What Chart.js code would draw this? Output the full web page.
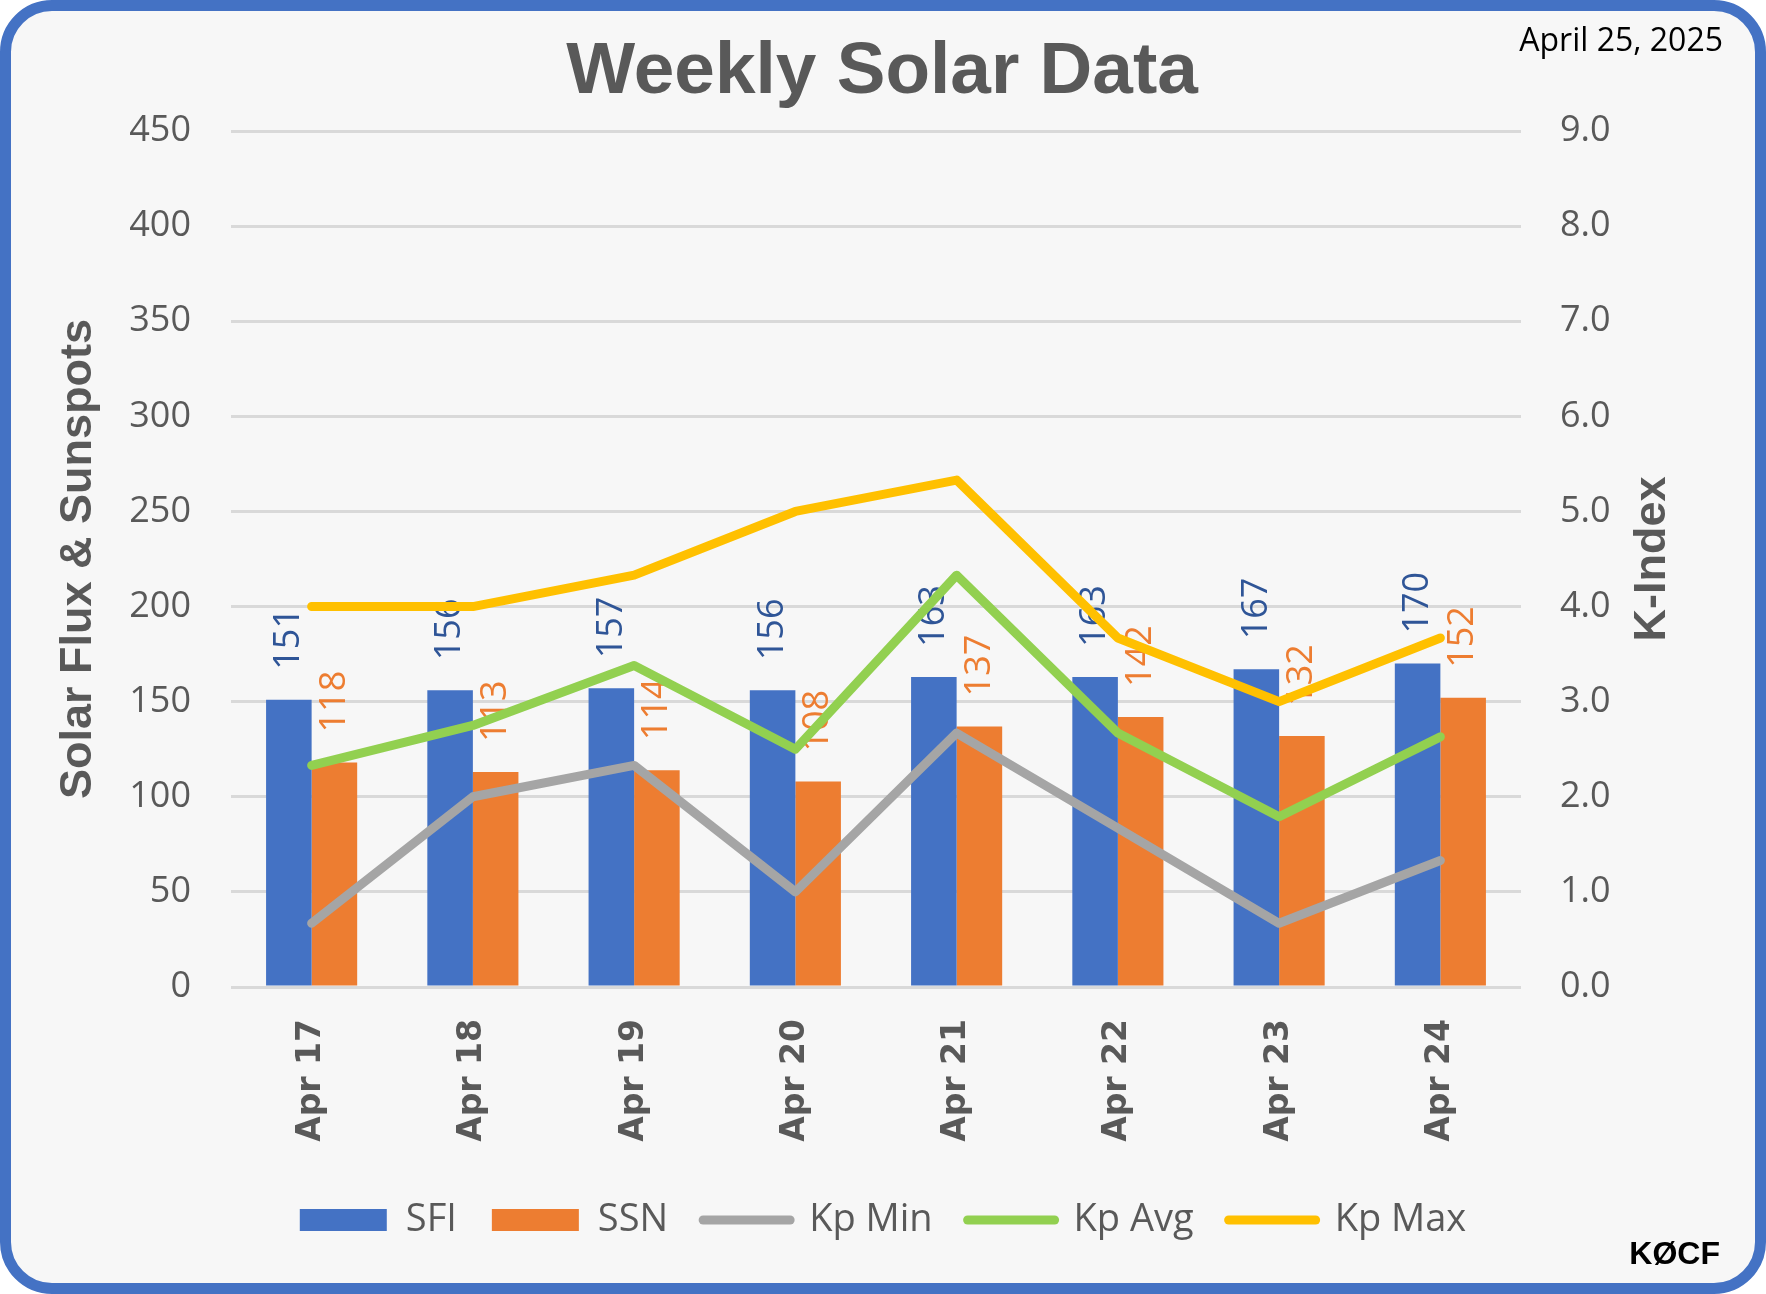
<!DOCTYPE html>
<html>
<head>
<meta charset="utf-8">
<title>Weekly Solar Data</title>
<script src="https://cdn.jsdelivr.net/npm/chart.js@4.4.1/dist/chart.umd.min.js"></script>
<style>
  html, body { margin: 0; padding: 0; background: #ffffff; }
  #frame { position: relative; width: 1766px; height: 1294px; }
  #panel {
    position: absolute; left: 0; top: 0; width: 1766px; height: 1294px;
    box-sizing: border-box; border: 11px solid #4472C4; border-radius: 52px;
    background: #f7f7f7;
  }
  #chart { position: absolute; left: 0; top: 0; }
</style>
</head>
<body>
<div id="frame">
  <div id="panel"></div>
  <canvas id="chart" width="1766" height="1294"></canvas>
</div>
<script>
// data
const days = ["Apr 17", "Apr 18", "Apr 19", "Apr 20", "Apr 21", "Apr 22", "Apr 23", "Apr 24"];
const sfi = [151, 156, 157, 156, 163, 163, 167, 170];
const ssn = [118, 113, 114, 108, 137, 142, 132, 152];
const kpMin = [0.67, 2.0, 2.33, 1.0, 2.67, 1.67, 0.67, 1.33];
const kpAvg = [2.33, 2.75, 3.38, 2.5, 4.33, 2.67, 1.79, 2.63];
const kpMax = [4.0, 4.0, 4.33, 5.0, 5.33, 3.67, 3.0, 3.67];
const fluxTicks = [0, 50, 100, 150, 200, 250, 300, 350, 400, 450];
const kTicks = [0, 1, 2, 3, 4, 5, 6, 7, 8, 9];

const chartTitle = "Weekly Solar Data";
const dateText = "April 25, 2025";
const callsign = "KØCF";

const grey = "#595959";
const tickFont = { family: "'Open Sans'", size: 36 };

// rotated value labels over the bars (drawn before the lines)
const barLabels = {
  id: "barLabels",
  afterDatasetDraw(chart, args) {
    if (args.meta.type !== "bar") return;
    const ds = chart.data.datasets[args.index];
    const ctx = chart.ctx;
    ctx.save();
    ctx.font = "36px 'Open Sans'";
    ctx.fillStyle = ds.labelColor;
    ctx.textAlign = "left";
    ctx.textBaseline = "middle";
    args.meta.data.forEach((bar, i) => {
      ctx.save();
      ctx.translate(bar.x, bar.y - 30);
      ctx.rotate(-Math.PI / 2);
      ctx.fillText(String(ds.data[i]), 0, 0);
      ctx.restore();
    });
    ctx.restore();
  }
};

const frameText = {
  id: "frameText",
  afterDraw(chart) {
    const ctx = chart.ctx;
    const area = chart.chartArea;
    ctx.save();
    ctx.fillStyle = grey;
    ctx.font = "bold 73px 'Liberation Sans'";
    ctx.textAlign = "center";
    ctx.textBaseline = "alphabetic";
    ctx.fillText(chartTitle, 882, 93);

    // right axis title reads bottom to top
    ctx.save();
    ctx.translate(1653, (area.top + area.bottom) / 2);
    ctx.rotate(-Math.PI / 2);
    ctx.font = "bold 45px 'Liberation Sans'";
    ctx.textBaseline = "middle";
    ctx.fillText("K-Index", 0, 0);
    ctx.restore();

    ctx.fillStyle = "#000000";
    ctx.textAlign = "right";
    ctx.font = "32px 'Open Sans'";
    ctx.fillText(dateText, 1723, 51);
    ctx.font = "bold 32px 'Liberation Sans'";
    ctx.fillText(callsign, 1720, 1264);
    ctx.restore();
  }
};

new Chart(document.getElementById("chart"), {
  type: "bar",
  data: {
    labels: days,
    datasets: [
      { label: "SFI", data: sfi, backgroundColor: "#4472C4", labelColor: "#2F5597",
        yAxisID: "y", order: 10, categoryPercentage: 0.565, barPercentage: 1.0 },
      { label: "SSN", data: ssn, backgroundColor: "#ED7D31", labelColor: "#ED7D31",
        yAxisID: "y", order: 10, categoryPercentage: 0.565, barPercentage: 1.0 },
      { type: "line", label: "Kp Min", data: kpMin, borderColor: "#A5A5A5", yAxisID: "y1", order: 3 },
      { type: "line", label: "Kp Avg", data: kpAvg, borderColor: "#92D050", yAxisID: "y1", order: 2 },
      { type: "line", label: "Kp Max", data: kpMax, borderColor: "#FFC000", yAxisID: "y1", order: 1 }
    ]
  },
  options: {
    responsive: false,
    devicePixelRatio: 1,
    animation: false,
    layout: { padding: { left: 20, right: 20, top: 131, bottom: 45 } },
    elements: {
      line: { borderWidth: 9, tension: 0, borderCapStyle: "round", borderJoinStyle: "round", fill: false },
      point: { radius: 0, hoverRadius: 0 }
    },
    plugins: {
      tooltip: { enabled: false },
      legend: {
        position: "bottom",
        labels: {
          color: grey,
          font: { family: "'Open Sans'", size: 38 },
          usePointStyle: true,
          pointStyleWidth: 87,
          boxHeight: 22,
          padding: 35,
          sort: (a, b) => a.datasetIndex - b.datasetIndex,
          generateLabels(chart) {
            return Chart.defaults.plugins.legend.labels.generateLabels(chart).map(item => {
              const ds = chart.data.datasets[item.datasetIndex];
              if (ds.type === "line") {
                item.pointStyle = "line";
                item.strokeStyle = ds.borderColor;
                item.lineWidth = 9;
                item.lineCap = "round";
              } else {
                item.pointStyle = "rect";
                item.fillStyle = ds.backgroundColor;
                item.lineWidth = 0;
              }
              return item;
            });
          }
        }
      }
    },
    scales: {
      x: {
        grid: { display: false },
        border: { display: false },
        ticks: {
          color: grey,
          font: { family: "'DejaVu Sans'", size: 33, weight: "bold" },
          minRotation: 90, maxRotation: 90, autoSkip: false, padding: 24
        },
        afterFit(scale) { scale.height = 179; }
      },
      y: {
        position: "left",
        min: fluxTicks[0],
        max: fluxTicks[fluxTicks.length - 1],
        ticks: { stepSize: fluxTicks[1] - fluxTicks[0], color: grey, font: tickFont, padding: 40 },
        grid: { color: "#d9d9d9", lineWidth: 3, drawTicks: false },
        border: { display: false },
        title: {
          display: true, text: "Solar Flux & Sunspots", color: grey,
          font: { family: "'Liberation Sans'", size: 45, weight: "bold" },
          padding: { top: 32, bottom: 0 }
        },
        afterFit(scale) { scale.width = 211; }
      },
      y1: {
        position: "right",
        min: kTicks[0],
        max: kTicks[kTicks.length - 1],
        ticks: {
          stepSize: kTicks[1] - kTicks[0], color: grey, font: tickFont, padding: 39,
          callback: v => v.toFixed(1)
        },
        grid: { drawOnChartArea: false, drawTicks: false },
        border: { display: false },
        afterFit(scale) { scale.width = 225; }
      }
    }
  },
  plugins: [barLabels, frameText]
});
</script>
</body>
</html>
